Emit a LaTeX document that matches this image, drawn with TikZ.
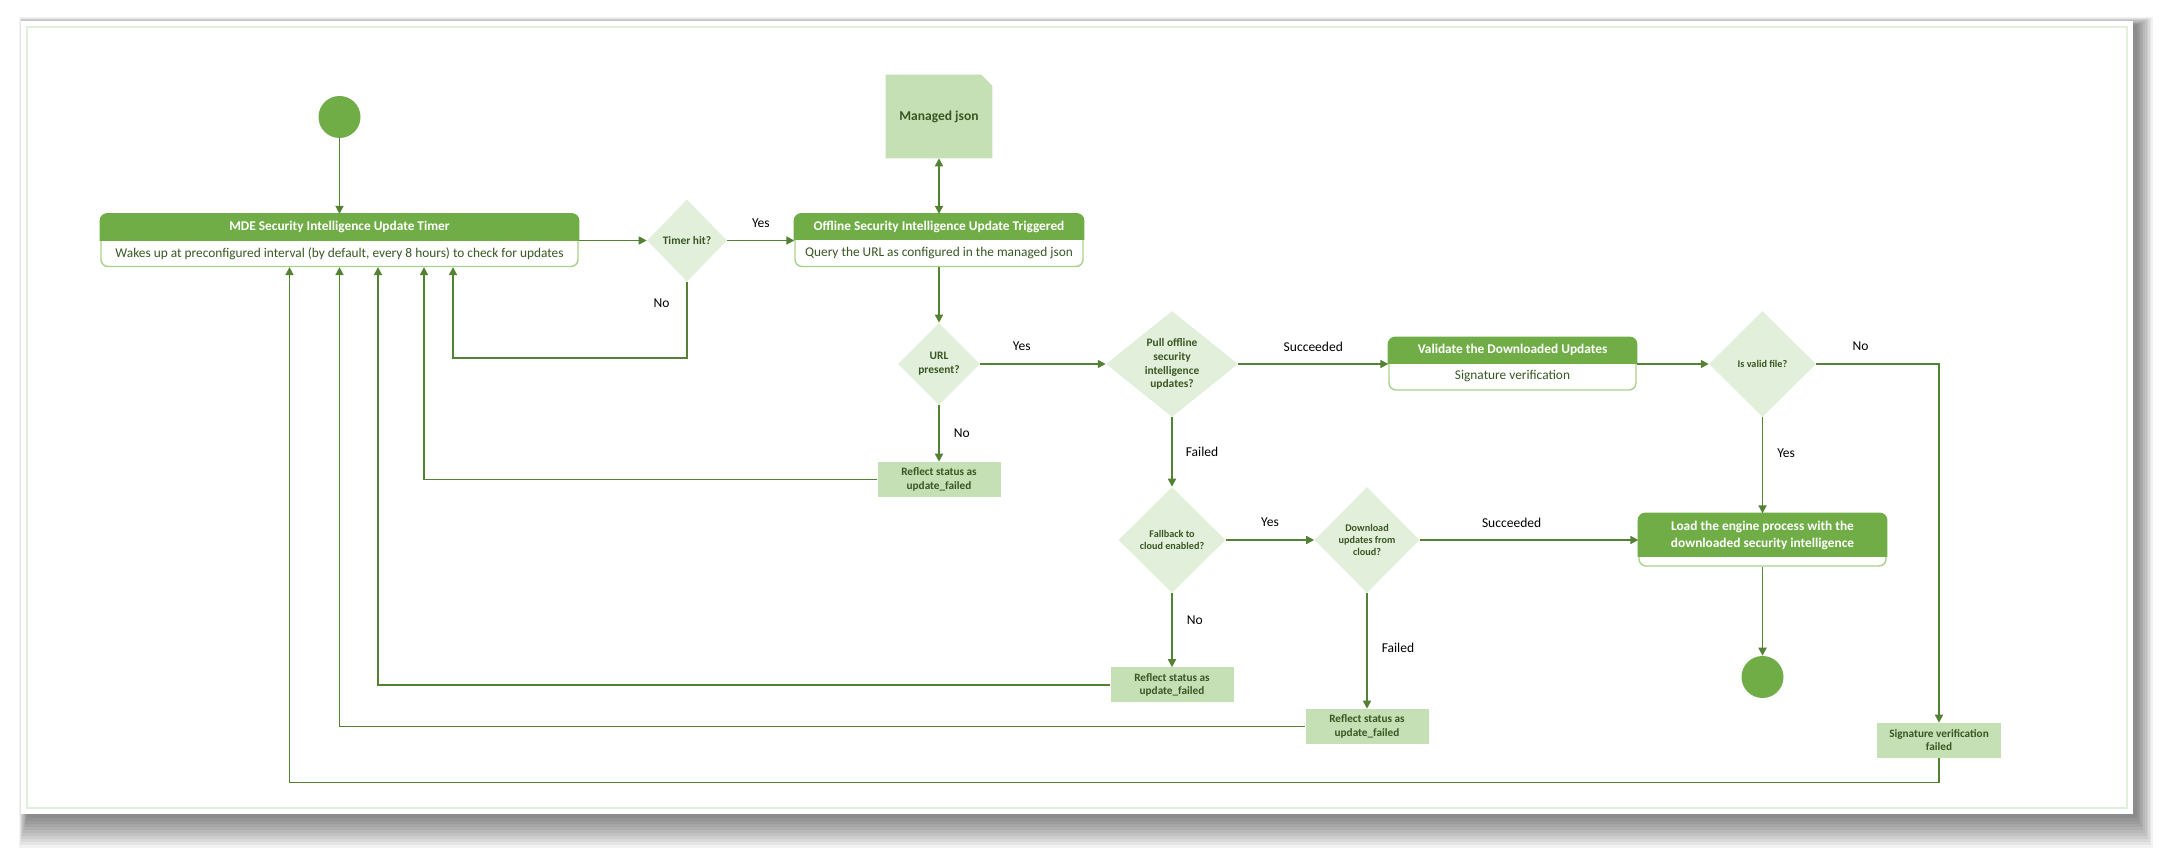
\documentclass[tikz,border=0pt]{standalone}
\usepackage{fontspec}
\setmainfont{Carlito}
\usetikzlibrary{shapes.geometric,arrows.meta,positioning,calc}

\definecolor{hdrgreen}{HTML}{70AD47}
\definecolor{linegreen}{HTML}{548235}
\definecolor{txtgreen}{HTML}{385723}
\definecolor{palegreen}{HTML}{E2EFDA}
\definecolor{boxgreen}{HTML}{C5E0B4}
\definecolor{edgegreen}{HTML}{A9D18E}

\newcommand{\pxu}{0.02cm}

\tikzset{
  flow/.style={draw=linegreen, line width=0.8pt, -{Triangle[length=4.5pt,width=4.6pt]}},
  twoway/.style={flow, {Triangle[length=4.5pt,width=4.6pt]}-{Triangle[length=4.5pt,width=4.6pt]}},
  lbl/.style={font=\fontsize{7.7}{9}\selectfont, text=black, inner sep=0pt},
  dia/.style={diamond, fill=palegreen, inner sep=0pt, align=center, text=txtgreen,
    font=\bfseries\fontsize{6.5}{7.9}\selectfont},
  dias/.style={dia, font=\bfseries\fontsize{5.8}{7}\selectfont},
  status/.style={rectangle, fill=boxgreen, inner sep=0pt, align=center, text=txtgreen,
    minimum width=123*\pxu, minimum height=35*\pxu, font=\bfseries\fontsize{6.4}{7.5}\selectfont},
  blk/.style={rectangle, rounded corners=4pt, draw=edgegreen, fill=white, line width=0.8pt, inner sep=0pt},
  hdrtxt/.style={text=white, font=\bfseries\fontsize{7.6}{9.4}\selectfont, inner sep=0pt, align=center},
  bodytxt/.style={text=txtgreen, font=\fontsize{7.6}{9}\selectfont, inner sep=0pt},
  dot/.style={circle, fill=hdrgreen, minimum size=42*\pxu, inner sep=0pt},
}

\begin{document}
\begin{tikzpicture}[x=\pxu, y=-\pxu]
  \useasboundingbox (0,0) rectangle (2175,857);
  \fill[white] (0,0) rectangle (2175,857);

  % card and its shadow
  \foreach \r in {0,2,...,20}
    \fill[black, opacity=0.05] (27-0.4*\r,25-0.4*\r) rectangle (2137+0.8*\r,818+1.5*\r);
  \fill[white] (21,21) rectangle (2133,814);
  \draw[palegreen, line width=0.6pt] (27,27) rectangle (2127,808);

  % blocks
  \node[dot] (start) at (339.5,117) {};
  \node[blk, minimum width=477*\pxu, minimum height=52*\pxu] (timer) at (339.5,240.5) {};
  \node[blk, minimum width=288*\pxu, minimum height=52*\pxu] (offline) at (939,240.5) {};
  \node[blk, minimum width=247*\pxu, minimum height=52*\pxu] (verify) at (1512.5,364) {};
  \node[blk, minimum width=247*\pxu, minimum height=52*\pxu] (load) at (1762.5,540) {};

  \foreach \b/\h in {timer/26.5,offline/26,verify/26,load/43}{
    \begin{scope}
      \clip ($(\b.north west)+(-3,-3)$) rectangle ($(\b.north east)+(3,\h)$);
      \draw[hdrgreen, fill=hdrgreen, line width=0.8pt, rounded corners=4pt] (\b.north west) rectangle (\b.south east);
    \end{scope}
  }

  \node[hdrtxt] (timerhd) at ($(timer.north)+(0,13.5)$) {MDE Security Intelligence Update Timer};
  \node[bodytxt] (timerbd) at ($(timer.north)+(0,39.5)$) {Wakes up at preconfigured interval (by default, every 8 hours) to check for updates};
  \node[hdrtxt] (offlinehd) at ($(offline.north)+(0,13)$) {Offline Security Intelligence Update Triggered};
  \node[bodytxt] (offlinebd) at ($(offline.north)+(0,39)$) {Query the URL as configured in the managed json};
  \node[hdrtxt] (verifyhd) at ($(verify.north)+(0,13)$) {Validate the Downloaded Updates};
  \node[bodytxt] (verifybd) at ($(verify.north)+(0,39)$) {Signature verification};
  \node[hdrtxt] (loadhd) at ($(load.north)+(0,22)$) {Load the engine process with the\\downloaded security intelligence};

  % managed json document
  \node[minimum width=106*\pxu, minimum height=83*\pxu, inner sep=0pt] (json) at (939,116.5) {};
  \fill[boxgreen] (json.south west) |- ($(json.north east)+(-11,0)$) -- ($(json.north east)+(0,11)$) |- cycle;
  \node[text=txtgreen, font=\bfseries\fontsize{7.7}{9}\selectfont, inner sep=0pt] (jsontxt) at (json) {Managed json};

  % decisions
  \node[dia, minimum width=80*\pxu, minimum height=82*\pxu] (hit) at (687,240.5) {Timer hit?};
  \node[dia, minimum width=82*\pxu, minimum height=82*\pxu] (url) at (939,364) {URL\\present?};
  \node[dia, minimum width=132*\pxu, minimum height=106*\pxu, aspect=1.25] (pull) at (1172,364) {Pull offline\\security\\intelligence\\updates?};
  \node[dias, minimum width=107*\pxu, minimum height=106*\pxu] (fallback) at (1172,540) {Fallback to\\cloud enabled?};
  \node[dias, minimum width=105*\pxu, minimum height=106*\pxu] (cloud) at (1367,540) {Download\\updates from\\cloud?};
  \node[dias, minimum width=107*\pxu, minimum height=106*\pxu] (valid) at (1762.5,364) {Is valid file?};

  % status boxes
  \node[status] (rf1) at (939,479.5) {Reflect status as\\update\_failed};
  \node[status] (rf2) at (1172,685) {Reflect status as\\update\_failed};
  \node[status] (rf3) at (1367,726.5) {Reflect status as\\update\_failed};
  \node[status, minimum width=124*\pxu] (sigfail) at (1939,740.5) {Signature verification\\failed};
  \node[dot] (stop) at (1762.5,677) {};

  % connectors
  \draw[flow] (start) -- (timer);
  \draw[flow] (timer.east) -- (hit.west);
  \draw[flow] (hit.east) -- node[lbl, yshift=10pt] (yes1) {Yes} (offline.west);
  \draw[twoway] (json) -- (offline);
  \draw[flow] (offline) -- (url);
  \draw[flow] (url) -- node[lbl, pos=0.33, yshift=10pt] (yes2) {Yes} (pull);
  \draw[flow] (url) -- node[lbl, right=8pt] (no2) {No} (rf1);
  \draw[flow] (pull) -- node[lbl, yshift=10pt] (ok1) {Succeeded} (verify);
  \draw[flow] (pull) -- node[lbl, right=7.5pt] (fail1) {Failed} (fallback);
  \draw[flow] (fallback) -- node[lbl, yshift=10pt] (yes3) {Yes} (cloud);
  \draw[flow] (fallback) -- node[lbl, pos=0.36, right=8pt] (no3) {No} (rf2);
  \draw[flow] (cloud) -- node[lbl, pos=0.42, yshift=10pt] (ok2) {Succeeded} (load);
  \draw[flow] (cloud) -- node[lbl, pos=0.47, right=8pt] (fail2) {Failed} (rf3);
  \draw[flow] (verify) -- (valid);
  \draw[flow] (valid) -- node[lbl, pos=0.37, right=8pt] (yes4) {Yes} (load);
  \draw[flow] (valid.east) -| node[lbl, pos=0.18, yshift=10pt] (no4) {No} (sigfail.north);
  \draw[flow] (load) -- (stop);

  % loops back to the timer
  \draw[flow] (hit.south) -- node[lbl, pos=0.28, left=9.5pt] (no1) {No} ++(0,76) -| ($(timer.south)+(113.5,0)$);
  \draw[flow] (rf1.west) -| ($(timer.south)+(84.5,0)$);
  \draw[flow] (rf2.west) -| ($(timer.south)+(38.5,0)$);
  \draw[flow] (rf3.west) -| (timer.south);
  \draw[flow] (sigfail.south) -- ++(0,24) -| ($(timer.south)+(-50,0)$);
\end{tikzpicture}
\end{document}
